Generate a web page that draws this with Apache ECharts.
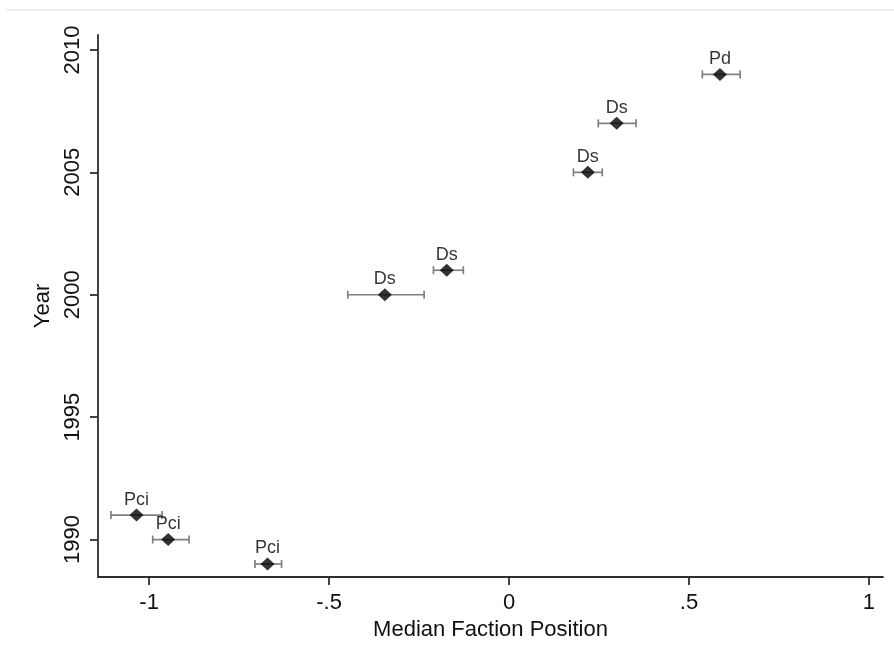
<!DOCTYPE html>
<html>
<head>
<meta charset="utf-8">
<script src="https://cdn.jsdelivr.net/npm/echarts@6/dist/echarts.min.js"></script>
<style>
html,body{margin:0;padding:0;background:#fff;}
#chart{width:894px;height:657px;}
</style>
</head>
<body>
<div id="chart"></div>
<script>
// Data
const years   = [2009, 2007, 2005, 2001, 2000, 1991, 1990, 1989];
const factions = ['Pd', 'Ds', 'Ds', 'Ds', 'Ds', 'Pci', 'Pci', 'Pci'];
const medians = [0.586, 0.299, 0.219, -0.173, -0.345, -1.035, -0.947, -0.671];
const lowers  = [0.537, 0.248, 0.179, -0.210, -0.448, -1.106, -0.990, -0.706];
const uppers  = [0.642, 0.353, 0.259, -0.127, -0.236, -0.964, -0.889, -0.632];

const xTickValues = [-1, -0.5, 0, 0.5, 1];
const xTickLabels = ['-1', '-.5', '0', '.5', '1'];
const yTickValues = [1990, 1995, 2000, 2005, 2010];
const yTickLabels = ['1990', '1995', '2000', '2005', '2010'];

const xTitle = 'Median Faction Position';
const yTitle = 'Year';

const FONT = 'Arial, "Liberation Sans", sans-serif';
const TXT = '#111111';
const AXIS = '#2e2e2e';

const scatterData = years.map((y, i) => [medians[i], y, factions[i]]);
const barData = years.map((y, i) => [lowers[i], uppers[i], y]);

const chart = echarts.init(document.getElementById('chart'), null, {renderer: 'canvas'});

chart.setOption({
  backgroundColor: '#ffffff',
  animation: false,
  graphic: [{
    type: 'line',
    shape: {x1: 6, y1: 10, x2: 894, y2: 10},
    style: {stroke: '#e4eaec', lineWidth: 1.5},
    silent: true
  }],
  grid: {left: 98, right: 11, top: 35, bottom: 80, containLabel: false},
  xAxis: {
    type: 'value',
    min: -1.142,
    max: 1.039,
    name: xTitle,
    nameLocation: 'middle',
    nameGap: 36,
    nameTextStyle: {fontFamily: FONT, fontSize: 22, color: TXT},
    axisLine: {show: true, onZero: false, lineStyle: {color: AXIS, width: 1.8}},
    axisTick: {show: true, length: 8, lineStyle: {color: AXIS, width: 1.8}, customValues: xTickValues},
    axisLabel: {
      margin: 15, fontFamily: FONT, fontSize: 22, color: TXT,
      customValues: xTickValues,
      formatter: v => {
        const i = xTickValues.findIndex(t => Math.abs(t - v) < 1e-9);
        return i >= 0 ? xTickLabels[i] : '';
      }
    },
    splitLine: {show: false}
  },
  yAxis: {
    type: 'value',
    min: 1988.47,
    max: 2010.61,
    name: yTitle,
    nameLocation: 'middle',
    nameGap: 42,
    nameRotate: 90,
    nameTextStyle: {fontFamily: FONT, fontSize: 22, color: TXT},
    axisLine: {show: true, onZero: false, lineStyle: {color: AXIS, width: 1.8}},
    axisTick: {show: true, length: 8, lineStyle: {color: AXIS, width: 1.8}, customValues: yTickValues},
    axisLabel: {
      margin: 14, rotate: 90, fontFamily: FONT, fontSize: 22, color: TXT,
      customValues: yTickValues,
      formatter: v => {
        const i = yTickValues.findIndex(t => Math.abs(t - v) < 1e-9);
        return i >= 0 ? yTickLabels[i] : '';
      }
    },
    splitLine: {show: false}
  },
  series: [
    {
      type: 'custom',
      z: 2,
      data: barData,
      encode: {x: [0, 1], y: 2},
      renderItem: function (params, api) {
        const a = api.coord([api.value(0), api.value(2)]);
        const b = api.coord([api.value(1), api.value(2)]);
        const h = 4;
        const st = {stroke: '#808080', lineWidth: 1.7};
        return {
          type: 'group',
          children: [
            {type: 'line', shape: {x1: a[0], y1: a[1], x2: b[0], y2: b[1]}, style: st},
            {type: 'line', shape: {x1: a[0], y1: a[1] - h, x2: a[0], y2: a[1] + h}, style: st},
            {type: 'line', shape: {x1: b[0], y1: b[1] - h, x2: b[0], y2: b[1] + h}, style: st}
          ]
        };
      }
    },
    {
      type: 'scatter',
      z: 3,
      data: scatterData,
      symbol: 'diamond',
      symbolSize: [14, 13],
      itemStyle: {color: '#000000'},
      label: {
        show: true,
        position: 'top',
        distance: 0,
        fontFamily: FONT,
        fontSize: 18,
        color: '#000000',
        formatter: p => p.data[2]
      }
    }
  ]
});
</script>
</body>
</html>
